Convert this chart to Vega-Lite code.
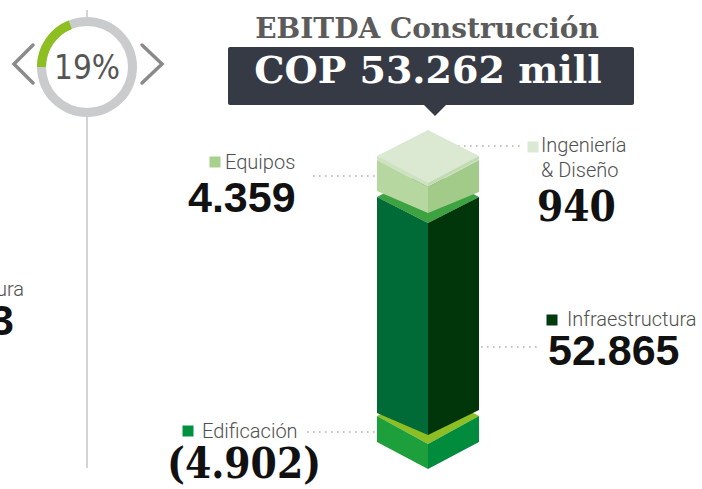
{
  "$schema": "https://vega.github.io/schema/vega-lite/v6.json",
  "width": 702,
  "height": 489,
  "padding": 0,
  "autosize": {"type": "none"},
  "background": "white",
  "config": {"view": {"stroke": null}},
  "datasets": {
    "faces": [
      {"block": "Edificación", "key": "Edificación-top", "x": 377, "y": 416, "y2": 416},
      {"block": "Edificación", "key": "Edificación-top", "x": 428, "y": 389, "y2": 444},
      {"block": "Edificación", "key": "Edificación-top", "x": 479, "y": 416, "y2": 416},
      {"block": "Edificación", "key": "Edificación-left", "x": 377, "y": 416, "y2": 442},
      {"block": "Edificación", "key": "Edificación-left", "x": 428, "y": 444, "y2": 469},
      {"block": "Edificación", "key": "Edificación-right", "x": 428, "y": 444, "y2": 469},
      {"block": "Edificación", "key": "Edificación-right", "x": 479, "y": 416, "y2": 442},
      {"block": "Infraestructura", "key": "Infraestructura-top", "x": 377, "y": 197, "y2": 197},
      {"block": "Infraestructura", "key": "Infraestructura-top", "x": 428, "y": 170, "y2": 223},
      {"block": "Infraestructura", "key": "Infraestructura-top", "x": 479, "y": 197, "y2": 197},
      {"block": "Infraestructura", "key": "Infraestructura-left", "x": 377, "y": 197, "y2": 413},
      {"block": "Infraestructura", "key": "Infraestructura-left", "x": 428, "y": 223, "y2": 435},
      {"block": "Infraestructura", "key": "Infraestructura-right", "x": 428, "y": 223, "y2": 435},
      {"block": "Infraestructura", "key": "Infraestructura-right", "x": 479, "y": 197, "y2": 410},
      {"block": "Equipos", "key": "Equipos-top", "x": 377, "y": 160, "y2": 160},
      {"block": "Equipos", "key": "Equipos-top", "x": 428, "y": 133, "y2": 187},
      {"block": "Equipos", "key": "Equipos-top", "x": 479, "y": 160, "y2": 160},
      {"block": "Equipos", "key": "Equipos-left", "x": 377, "y": 160, "y2": 191},
      {"block": "Equipos", "key": "Equipos-left", "x": 428, "y": 187, "y2": 213},
      {"block": "Equipos", "key": "Equipos-right", "x": 428, "y": 187, "y2": 213},
      {"block": "Equipos", "key": "Equipos-right", "x": 479, "y": 160, "y2": 192},
      {"block": "Ingeniería", "key": "Ingeniería-left", "x": 377, "y": 156, "y2": 159},
      {"block": "Ingeniería", "key": "Ingeniería-left", "x": 428, "y": 183, "y2": 186},
      {"block": "Ingeniería", "key": "Ingeniería-right", "x": 428, "y": 183, "y2": 186},
      {"block": "Ingeniería", "key": "Ingeniería-right", "x": 479, "y": 156, "y2": 159},
      {"block": "Ingeniería", "key": "Ingeniería-top", "x": 377, "y": 156, "y2": 156},
      {"block": "Ingeniería", "key": "Ingeniería-top", "x": 428, "y": 130, "y2": 183},
      {"block": "Ingeniería", "key": "Ingeniería-top", "x": 479, "y": 156, "y2": 156}
    ],
    "box": [{"x": 228, "x2": 634, "y": 47, "y2": 105}],
    "pointer": [
      {"x": 423, "y": 104, "y2": 104},
      {"x": 435, "y": 104, "y2": 116},
      {"x": 447, "y": 104, "y2": 104}
    ],
    "leaders": [
      {"cat": "Equipos", "x": 313, "x2": 392, "y": 176},
      {"cat": "Ingeniería", "x": 458, "x2": 524, "y": 146},
      {"cat": "Infraestructura", "x": 475, "x2": 539, "y": 347},
      {"cat": "Edificación", "x": 307, "x2": 400, "y": 432}
    ],
    "divider": [{"x": 87, "y": 10, "y2": 468}],
    "chevrons": [
      {"side": "prev", "x": 33, "y": 45},
      {"side": "prev", "x": 14, "y": 64},
      {"side": "prev", "x": 33, "y": 83},
      {"side": "next", "x": 142, "y": 45},
      {"side": "next", "x": 162, "y": 64},
      {"side": "next", "x": 142, "y": 83}
    ],
    "gauge": [
      {"part": "disc", "x": 87, "y": 67, "t0": 0, "t1": 6.2832},
      {"part": "track", "x": 87, "y": 67, "t0": 0, "t1": 6.2832},
      {"part": "value", "x": 87, "y": 67, "t0": 4.712, "t1": 5.906}
    ],
    "swatches": [
      {"cat": "Equipos", "x": 215, "y": 162},
      {"cat": "Ingeniería", "x": 533, "y": 147},
      {"cat": "Infraestructura", "x": 552, "y": 320},
      {"cat": "Edificación", "x": 188, "y": 431}
    ],
    "texts": [
      {"kind": "title", "text": "EBITDA Construcción", "x": 427, "y": 38},
      {"kind": "total", "text": "COP 53.262 mill", "x": 428, "y": 83},
      {"kind": "label", "text": "Equipos", "x": 225, "y": 169},
      {"kind": "label", "text": "Ingeniería", "x": 541, "y": 152},
      {"kind": "label", "text": "& Diseño", "x": 541, "y": 177},
      {"kind": "label", "text": "Infraestructura", "x": 567, "y": 326},
      {"kind": "label", "text": "Edificación", "x": 202, "y": 438},
      {"kind": "labelR", "text": "Infraestructura", "x": 24, "y": 296},
      {"kind": "num", "text": "4.359", "x": 188, "y": 212},
      {"kind": "num", "text": "52.865", "x": 548, "y": 365},
      {"kind": "numR", "text": "3", "x": 14, "y": 335},
      {"kind": "slab", "text": "940", "x": 537, "y": 221},
      {"kind": "slab", "text": "(4.902)", "x": 167, "y": 478},
      {"kind": "pct", "text": "19%", "x": 87, "y": 79}
    ]
  },
  "encoding": {
    "x": {"field": "x", "type": "quantitative", "axis": null, "scale": {"domain": [0, 702], "nice": false, "zero": false}},
    "y": {"field": "y", "type": "quantitative", "axis": null, "scale": {"domain": [0, 489], "nice": false, "zero": false, "reverse": true}}
  },
  "resolve": {"scale": {"color": "independent"}},
  "layer": [
    {
      "data": {"name": "divider"},
      "mark": {"type": "rule", "stroke": "#d4d4d4", "strokeWidth": 2},
      "encoding": {"y2": {"field": "y2"}}
    },
    {
      "data": {"name": "gauge"},
      "transform": [{"filter": "datum.part === 'disc'"}],
      "mark": {"type": "arc", "radius": 50, "radius2": 0, "fill": "white"},
      "encoding": {
        "theta": {"field": "t0", "type": "quantitative", "scale": null},
        "theta2": {"field": "t1"}
      }
    },
    {
      "data": {"name": "gauge"},
      "transform": [{"filter": "datum.part !== 'disc'"}],
      "mark": {"type": "arc", "radius": 50, "radius2": 41},
      "encoding": {
        "theta": {"field": "t0", "type": "quantitative", "scale": null},
        "theta2": {"field": "t1"},
        "color": {"field": "part", "type": "nominal", "legend": null, "scale": {"domain": ["track", "value"], "range": ["#cacbcc", "#8cbf1f"]}}
      }
    },
    {
      "data": {"name": "chevrons"},
      "mark": {"type": "line", "stroke": "#8a8a8a", "strokeWidth": 3.5, "strokeCap": "round", "strokeJoin": "miter"},
      "encoding": {"detail": {"field": "side"}, "order": {"field": "y", "type": "quantitative"}}
    },
    {
      "data": {"name": "box"},
      "mark": {"type": "rect", "fill": "#363a45", "cornerRadius": 2},
      "encoding": {"x2": {"field": "x2"}, "y2": {"field": "y2"}}
    },
    {
      "data": {"name": "pointer"},
      "mark": {"type": "area", "fill": "#363a45"},
      "encoding": {"y2": {"field": "y2"}}
    },
    {
      "data": {"name": "leaders"},
      "mark": {"type": "rule", "stroke": "#b0b0b0", "strokeWidth": 1.6, "strokeDash": [1.6, 4.4]},
      "encoding": {"x2": {"field": "x2"}}
    },
    {
      "data": {"name": "faces"},
      "transform": [{"filter": "datum.block === 'Edificación'"}],
      "mark": {"type": "area", "opacity": 1},
      "encoding": {
        "y2": {"field": "y2"},
        "detail": {"field": "key"},
        "color": {"field": "key", "type": "nominal", "legend": null, "scale": {"domain": ["Edificación-top", "Edificación-left", "Edificación-right"], "range": ["#8dbe24", "#1d9f3b", "#008b3d"]}}
      }
    },
    {
      "data": {"name": "faces"},
      "transform": [{"filter": "datum.block === 'Infraestructura'"}],
      "mark": {"type": "area", "opacity": 1},
      "encoding": {
        "y2": {"field": "y2"},
        "detail": {"field": "key"},
        "color": {"field": "key", "type": "nominal", "legend": null, "scale": {"domain": ["Infraestructura-top", "Infraestructura-left", "Infraestructura-right"], "range": ["#3ca340", "#006b36", "#00360a"]}}
      }
    },
    {
      "data": {"name": "faces"},
      "transform": [{"filter": "datum.block === 'Equipos'"}],
      "mark": {"type": "area", "opacity": 1},
      "encoding": {
        "y2": {"field": "y2"},
        "detail": {"field": "key"},
        "color": {"field": "key", "type": "nominal", "legend": null, "scale": {"domain": ["Equipos-top", "Equipos-left", "Equipos-right"], "range": ["#cfe3c5", "#b6d8a0", "#a2cb89"]}}
      }
    },
    {
      "data": {"name": "faces"},
      "transform": [{"filter": "datum.block === 'Ingeniería'"}],
      "mark": {"type": "area", "opacity": 1},
      "encoding": {
        "y2": {"field": "y2"},
        "detail": {"field": "key"},
        "color": {"field": "key", "type": "nominal", "legend": null, "scale": {"domain": ["Ingeniería-top", "Ingeniería-left", "Ingeniería-right"], "range": ["#dbe8d2", "#cde2c1", "#c0dab1"]}}
      }
    },
    {
      "data": {"name": "swatches"},
      "mark": {"type": "square", "size": 121, "opacity": 1, "filled": true},
      "encoding": {
        "color": {"field": "cat", "type": "nominal", "legend": null, "scale": {"domain": ["Equipos", "Ingeniería", "Infraestructura", "Edificación"], "range": ["#a8d08d", "#dbe8d3", "#003b0b", "#00913f"]}}
      }
    },
    {
      "data": {"name": "texts"},
      "transform": [{"filter": "datum.kind === 'title'"}],
      "mark": {"type": "text", "font": "DejaVu Serif", "fontWeight": "bold", "fontSize": 28, "fill": "#5b5b5b", "align": "center", "baseline": "alphabetic"},
      "encoding": {"text": {"field": "text"}}
    },
    {
      "data": {"name": "texts"},
      "transform": [{"filter": "datum.kind === 'total'"}],
      "mark": {"type": "text", "font": "DejaVu Serif", "fontWeight": "bold", "fontSize": 38, "fill": "#ffffff", "align": "center", "baseline": "alphabetic"},
      "encoding": {"text": {"field": "text"}}
    },
    {
      "data": {"name": "texts"},
      "transform": [{"filter": "datum.kind === 'label'"}],
      "mark": {"type": "text", "font": "Roboto", "fontWeight": 300, "fontSize": 20, "fill": "#505050", "align": "left", "baseline": "alphabetic"},
      "encoding": {"text": {"field": "text"}}
    },
    {
      "data": {"name": "texts"},
      "transform": [{"filter": "datum.kind === 'labelR'"}],
      "mark": {"type": "text", "font": "Roboto", "fontWeight": 300, "fontSize": 20, "fill": "#505050", "align": "right", "baseline": "alphabetic", "clip": true},
      "encoding": {"text": {"field": "text"}}
    },
    {
      "data": {"name": "texts"},
      "transform": [{"filter": "datum.kind === 'num'"}],
      "mark": {"type": "text", "font": "Liberation Sans", "fontWeight": "bold", "fontSize": 43, "fill": "#111111", "align": "left", "baseline": "alphabetic"},
      "encoding": {"text": {"field": "text"}}
    },
    {
      "data": {"name": "texts"},
      "transform": [{"filter": "datum.kind === 'numR'"}],
      "mark": {"type": "text", "font": "Liberation Sans", "fontWeight": "bold", "fontSize": 43, "fill": "#111111", "align": "right", "baseline": "alphabetic", "clip": true},
      "encoding": {"text": {"field": "text"}}
    },
    {
      "data": {"name": "texts"},
      "transform": [{"filter": "datum.kind === 'slab'"}],
      "mark": {"type": "text", "font": "DejaVu Serif Condensed, DejaVu Serif", "fontWeight": "bold", "fontSize": 42, "fill": "#111111", "align": "left", "baseline": "alphabetic"},
      "encoding": {"text": {"field": "text"}}
    },
    {
      "data": {"name": "texts"},
      "transform": [{"filter": "datum.kind === 'pct'"}],
      "mark": {"type": "text", "font": "Liberation Sans Narrow, DejaVu Sans Condensed, Roboto", "fontSize": 33, "fill": "#555555", "align": "center", "baseline": "alphabetic"},
      "encoding": {"text": {"field": "text"}}
    }
  ]
}
